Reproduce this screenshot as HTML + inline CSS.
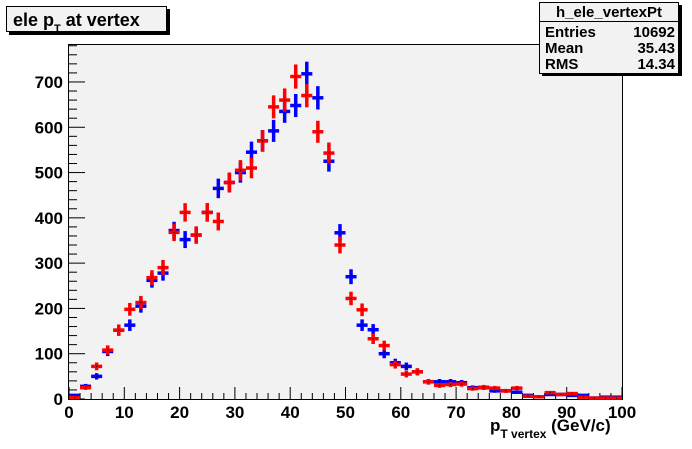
<!DOCTYPE html>
<html><head><meta charset="utf-8"><style>
body{margin:0;background:#fff;width:692px;height:444px;overflow:hidden;font-family:"Liberation Sans",Arial,sans-serif}
</style></head><body>
<svg width="692" height="444" xmlns="http://www.w3.org/2000/svg" font-family="Liberation Sans, Arial, sans-serif" font-weight="bold">
<rect x="68.5" y="44.5" width="554" height="355" fill="#f2f2f2" stroke="#000" stroke-width="1"/>
<g id="ticks"></g>
<g id="marks"></g>
<g>
<rect x="9" y="9" width="161" height="26" fill="#000"/>
<rect x="6.5" y="6.5" width="160" height="25" fill="#f2f2f2" stroke="#000"/>
<text x="13" y="26" font-size="18">ele p<tspan font-size="11" dy="6">T</tspan><tspan dy="-6"> at vertex</tspan></text>
</g>
<g font-size="15">
<rect x="542" y="5" width="140" height="71" fill="#000"/>
<rect x="539.5" y="2.5" width="139" height="71" fill="#f2f2f2" stroke="#000"/>
<line x1="539.5" y1="21.5" x2="678.5" y2="21.5" stroke="#000"/>
<text x="609" y="17" text-anchor="middle">h_ele_vertexPt</text>
<text x="545" y="37">Entries</text><text x="675" y="37" text-anchor="end">10692</text>
<text x="545" y="53">Mean</text><text x="675" y="53" text-anchor="end">35.43</text>
<text x="545" y="69">RMS</text><text x="675" y="69" text-anchor="end">14.34</text>
</g>
<text x="490" y="431" font-size="17">p<tspan font-size="12" dy="7">T vertex</tspan><tspan dy="-7"> (GeV/c)</tspan></text>
</svg>
<script>
const binCenters=[1,3,5,7,9,11,13,15,17,19,21,23,25,27,29,31,33,35,37,39,41,43,45,47,49,51,53,55,57,59,61,63,65,67,69,71,73,75,77,79,81,83,85,87,89,91,93,95,97,99];
const blueValues=[8,28,50,105,152,163,205,262,278,372,352,362,412,465,478,500,545,570,592,635,648,718,665,525,367,270,163,153,100,80,72,60,38,38,38,36,25,25,18,18,15,8,5,10,10,8,8,2,4,4];
const redValues=[3,25,72,108,152,198,213,268,290,368,412,362,412,392,478,505,510,570,645,660,712,670,590,543,340,222,197,133,118,76,55,60,38,30,32,33,23,26,24,18,24,6,5,14,10,12,4,2,2,2];
const xTicks=[0,10,20,30,40,50,60,70,80,90,100];
const yTicks=[0,100,200,300,400,500,600,700];
const X0=69,X1=622,Y0=399,PPU=0.4529;
const xs=v=>X0+(v/100)*(X1-X0);
const ys=v=>Y0-v*PPU;
const NS="http://www.w3.org/2000/svg";
function mk(t,a,p){const e=document.createElementNS(NS,t);for(const k in a)e.setAttribute(k,a[k]);p.appendChild(e);return e;}
const tk=document.getElementById('ticks');
for(let v=0;v<=100;v+=2){const big=v%10===0;const l=mk('line',{x1:xs(v),x2:xs(v),y1:Y0,y2:Y0-(big?12:6),stroke:'#000'},tk);
}
xTicks.forEach(v=>{const t=mk('text',{x:xs(v),y:418,'text-anchor':'middle','font-size':17},tk);t.textContent=v;
});
for(let v=0;v<=780;v+=20){const big=v%100===0;const l=mk('line',{x1:X0,x2:X0+(big?16:8),y1:ys(v),y2:ys(v),stroke:'#000'},tk);
}
yTicks.forEach(v=>{const t=mk('text',{x:63,y:ys(v)+6,'text-anchor':'end','font-size':17},tk);t.textContent=v;
});
const mg=document.getElementById('marks');
function series(vals,color,name){
 const g=mk('g',{},mg);
 
 
 vals.forEach((v,i)=>{const c=binCenters[i],e=Math.sqrt(v);
  const h=mk('line',{x1:xs(c-1),x2:xs(c+1),y1:ys(v),y2:ys(v),stroke:color,'stroke-width':3.5},g);
  
  const w=mk('line',{x1:xs(c),x2:xs(c),y1:ys(v+e),y2:ys(Math.max(0,v-e)),stroke:color,'stroke-width':3.5},g);
  
  mk('rect',{x:xs(c)-0.5,y:ys(v)-0.5,width:1,height:1,fill:'#000'},g);
 });
}
series(blueValues,'#0000ff','blue-series');
series(redValues,'#ff0000','red-series');
</script>
</body></html>
